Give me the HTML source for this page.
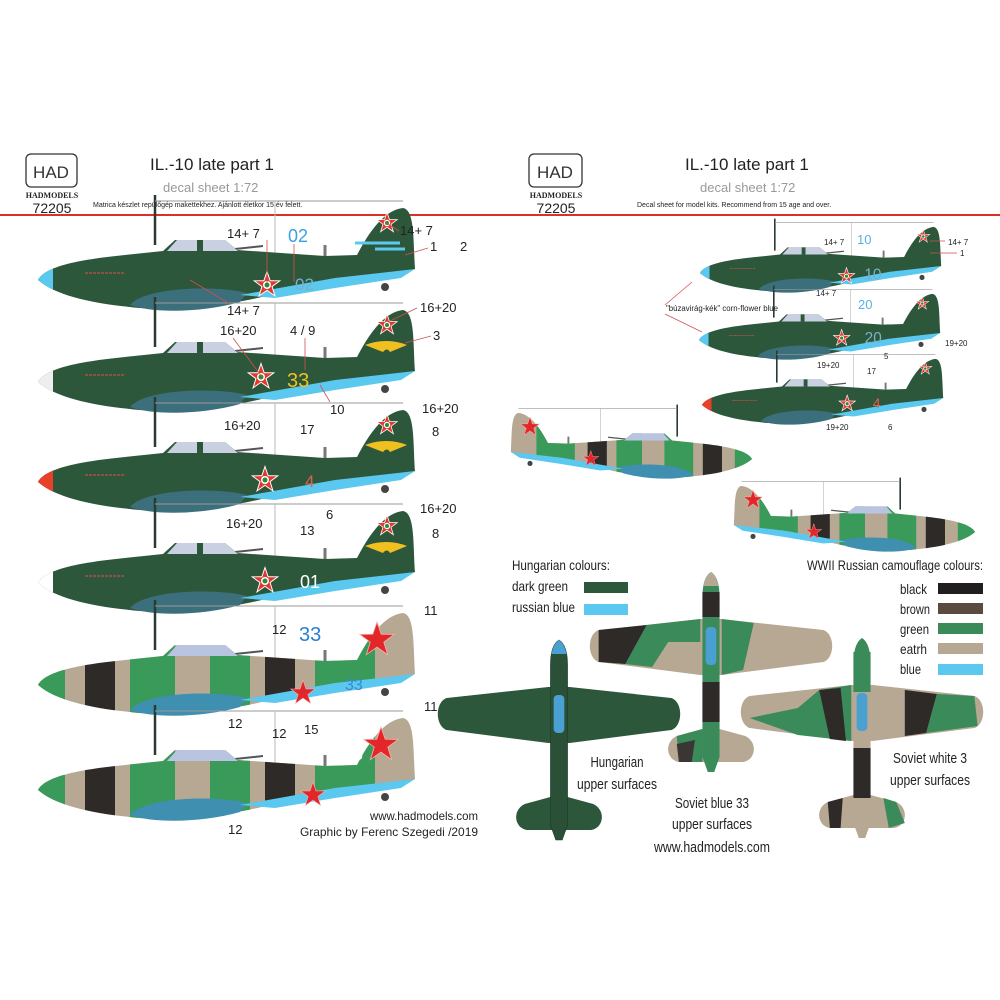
<!DOCTYPE html>
<html><head><meta charset="utf-8"><style>
html,body{margin:0;padding:0;background:#fff;}
svg{display:block;font-family:"Liberation Sans",sans-serif;}
</style></head><body>
<svg width="1000" height="1000" viewBox="0 0 1000 1000" xmlns="http://www.w3.org/2000/svg">
<defs>
<path id="P" d="M3,75 C10,62 40,55 90,50 L128,46 L140,35 L190,35 L202,45 L290,51 L322,50 C335,25 350,5 368,3 C380,5 378,35 380,64 L362,70 L290,78 L240,88 C200,102 120,106 95,102 C55,98 20,90 3,75Z"/>
<clipPath id="pc"><use href="#P"/></clipPath>
<path id="W" d="M95,100 C110,82 180,80 212,88 L205,97 C170,107 120,109 95,100Z"/>
<path id="B" d="M205,90 L300,73 L380,64 L366,73 L300,83 L240,93Z"/>
<path id="C" d="M132,46 L142,35 L190,35 L203,46Z"/>
<path id="S" d="M0,-12 L2.8,-3.8 L11.4,-3.7 L4.5,1.4 L7.1,9.7 L0,4.7 L-7.1,9.7 L-4.5,1.4 L-11.4,-3.7 L-2.8,-3.8Z"/>
<g id="ST"><use href="#S" fill="#fff" transform="scale(1.25)"/><use href="#S" fill="#e03a30"/><circle r="4" fill="#fff"/><circle r="2.5" fill="#2a8a3a"/></g>
<g id="RS"><use href="#S" fill="#f6b0a8" transform="scale(1.15)"/><use href="#S" fill="#e3262a"/></g>
<g id="FR">
<line x1="120" y1="-10" x2="120" y2="40" stroke="#2a3a30" stroke-width="2.5"/>
<polyline points="120,-4 240,-4 368,-4" fill="none" stroke="#999" stroke-width="1"/>
<line x1="240" y1="-4" x2="240" y2="60" stroke="#bbb" stroke-width="1"/>
<line x1="200" y1="44" x2="228" y2="41" stroke="#555" stroke-width="2"/>
<line x1="290" y1="40" x2="290" y2="51" stroke="#777" stroke-width="3"/>
<circle cx="350" cy="82" r="4" fill="#444"/>
</g>
<g id="GP">
<use href="#FR"/>
<use href="#P" fill="#2c573b"/>
<use href="#W" fill="#3b6f7c"/>
<use href="#B" fill="#5bc8ef"/>
<use href="#C" fill="#c9d0e2"/>
<line x1="165" y1="35" x2="165" y2="46" stroke="#2c573b" stroke-width="6"/>
<line x1="50" y1="68" x2="90" y2="68" stroke="#c0504a" stroke-width="1.2" stroke-dasharray="3,1"/>
</g>
<g id="CP">
<use href="#FR"/>
<use href="#P" fill="#b7a894"/>
<g clip-path="url(#pc)">
<rect x="50" y="0" width="30" height="110" fill="#2d2a28"/>
<rect x="95" y="0" width="45" height="110" fill="#3a9a5a"/>
<rect x="175" y="0" width="40" height="110" fill="#3a9a5a"/>
<rect x="230" y="0" width="30" height="110" fill="#2d2a28"/>
<rect x="280" y="0" width="60" height="110" fill="#3a9a5a"/>
<rect x="0" y="60" width="30" height="40" fill="#3a9a5a"/>
</g>
<use href="#W" fill="#3e8fb0"/>
<use href="#B" fill="#5bc8ef"/>
<use href="#C" fill="#b8c4e0"/>
</g>
<path id="TW" d="M-10,47 L-105,58 C-116,62 -116,86 -105,90 L-10,103 L10,103 L105,90 C116,86 116,62 105,58 L10,47Z"/>
<path id="TS" d="M-8,157 L-32,164 C-44,170 -42,188 -30,190 L30,190 C42,188 44,170 32,164 L8,157Z"/>
<path id="TF" d="M0,0 C6,4 8,14 8,25 L8,185 L3,200 L-3,200 L-8,185 L-8,25 C-8,14 -6,4 0,0Z"/>
<g id="TM"><rect x="-5" y="55" width="10" height="38" rx="4" fill="#4aa0d0"/></g>
</defs>

<!-- header left -->
<rect x="26" y="154" width="51" height="33" rx="5" fill="none" stroke="#333" stroke-width="1.3"/>
<text x="51" y="178" font-size="17" text-anchor="middle" fill="#333">HAD</text>
<text x="52" y="198" font-size="8" font-weight="bold" text-anchor="middle" font-family="Liberation Serif,serif" fill="#222">HADMODELS</text>
<text x="52" y="213" font-size="14" text-anchor="middle" fill="#222">72205</text>
<text x="150" y="170" font-size="17" fill="#222">IL.-10 late part 1</text>
<text x="163" y="192" font-size="13" fill="#999">decal sheet 1:72</text>
<text x="93" y="207" font-size="7" fill="#222">Matrica készlet repülőgép makettekhez. Ajánlott életkor 15 év felett.</text>
<!-- header right -->
<rect x="529" y="154" width="53" height="33" rx="5" fill="none" stroke="#333" stroke-width="1.3"/>
<text x="555" y="178" font-size="17" text-anchor="middle" fill="#333">HAD</text>
<text x="556" y="198" font-size="8" font-weight="bold" text-anchor="middle" font-family="Liberation Serif,serif" fill="#222">HADMODELS</text>
<text x="556" y="213" font-size="14" text-anchor="middle" fill="#222">72205</text>
<text x="685" y="170" font-size="17" fill="#222">IL.-10 late part 1</text>
<text x="700" y="192" font-size="13" fill="#999">decal sheet 1:72</text>
<text x="637" y="207" font-size="7" fill="#222">Decal sheet for model kits. Recommend from 15 age and over.</text>
<rect x="0" y="214" width="1000" height="2" fill="#d9302a"/>

<!-- left planes -->
<g transform="translate(35,205)"><use href="#GP"/><rect x="0" y="40" width="18" height="60" fill="#5bc8ef" clip-path="url(#pc)"/>
<use href="#ST" transform="translate(232,80)"/><use href="#ST" transform="translate(352,18) scale(0.8)"/>
<text x="260" y="85" font-size="17" fill="#7ab0c8">02</text>
<path d="M320,38 L365,38 M340,44 L370,44" stroke="#5bc8ef" stroke-width="3"/></g>
<g transform="translate(35,307)"><use href="#GP"/><rect x="0" y="40" width="18" height="60" fill="#eee" clip-path="url(#pc)"/>
<use href="#ST" transform="translate(226,70)"/><use href="#ST" transform="translate(352,18) scale(0.8)"/>
<text x="252" y="80" font-size="20" fill="#f0c020">33</text>
<path d="M330,38 Q352,30 372,38 L355,45 Q352,40 348,45Z" fill="#f0c020"/></g>
<g transform="translate(35,407)"><use href="#GP"/><rect x="0" y="40" width="18" height="60" fill="#e8402a" clip-path="url(#pc)"/>
<use href="#ST" transform="translate(230,73)"/><use href="#ST" transform="translate(352,18) scale(0.8)"/>
<text x="270" y="80" font-size="17" fill="#e06050">4</text>
<path d="M330,38 Q352,30 372,38 L355,45 Q352,40 348,45Z" fill="#f0c020"/></g>
<g transform="translate(35,508)"><use href="#GP"/><rect x="0" y="40" width="18" height="60" fill="#fff" clip-path="url(#pc)"/>
<use href="#ST" transform="translate(230,73)"/><use href="#ST" transform="translate(352,18) scale(0.8)"/>
<text x="265" y="80" font-size="18" fill="#fff">01</text>
<path d="M330,38 Q352,30 372,38 L355,45 Q352,40 348,45Z" fill="#f0c020"/></g>
<g transform="translate(35,610)"><use href="#CP"/>
<use href="#RS" transform="translate(268,83)"/><use href="#RS" transform="translate(342,30) scale(1.4)"/>
<text x="310" y="80" font-size="16" fill="#3a8ad0">33</text></g>
<g transform="translate(35,715)"><use href="#CP"/>
<use href="#RS" transform="translate(278,80)"/><use href="#RS" transform="translate(346,30) scale(1.4)"/>
<text x="318" y="45" font-size="18" fill="#fff">3</text></g>

<!-- left labels -->
<g font-size="13" fill="#222">
<text x="227" y="238">14+ 7</text><text x="288" y="242" fill="#3aa0e0" font-size="18">02</text>
<text x="400" y="235">14+ 7</text><text x="430" y="251">1</text><text x="460" y="251">2</text>
<text x="227" y="315">14+ 7</text>
<text x="220" y="335">16+20</text><text x="290" y="335">4 / 9</text>
<text x="420" y="312">16+20</text><text x="433" y="340">3</text><text x="330" y="414">10</text>
<text x="224" y="430">16+20</text><text x="300" y="434">17</text>
<text x="422" y="413">16+20</text><text x="432" y="436">8</text><text x="326" y="519">6</text>
<text x="226" y="528">16+20</text><text x="300" y="535">13</text>
<text x="420" y="513">16+20</text><text x="432" y="538">8</text>
<text x="272" y="634">12</text><text x="299" y="641" fill="#2a80d0" font-size="20">33</text>
<text x="424" y="615">11</text>
<text x="228" y="728">12</text><text x="272" y="738">12</text><text x="304" y="734">15</text>
<text x="424" y="711">11</text><text x="228" y="834">12</text>
</g>
<g stroke="#d05050" stroke-width="0.8" fill="none">
<path d="M267,240 L267,283 M294,244 L294,282 M399,231 L385,222 M428,248 L405,255 M230,304 L190,280 M233,338 L262,377 M305,338 L305,370 M417,308 L388,322 M431,336 L405,343 M330,402 L320,385"/>
</g>
<text x="370" y="820" font-size="12" fill="#222" textLength="108" lengthAdjust="spacingAndGlyphs">www.hadmodels.com</text>
<text x="300" y="836" font-size="12" fill="#222" textLength="178" lengthAdjust="spacingAndGlyphs">Graphic by Ferenc Szegedi /2019</text>

<!-- right small planes -->
<g transform="translate(698,225) scale(0.64)"><use href="#GP"/><rect x="0" y="40" width="18" height="60" fill="#5bc8ef" clip-path="url(#pc)"/>
<use href="#ST" transform="translate(232,80)"/><use href="#ST" transform="translate(352,18) scale(0.8)"/>
<text x="260" y="85" font-size="24" fill="#7ab0c8">10</text></g>
<g transform="translate(697,292) scale(0.64)"><use href="#GP"/><rect x="0" y="40" width="18" height="60" fill="#5bc8ef" clip-path="url(#pc)"/>
<use href="#ST" transform="translate(226,72)"/><use href="#ST" transform="translate(352,18) scale(0.8)"/>
<text x="262" y="80" font-size="24" fill="#7ab0c8">20</text></g>
<g transform="translate(700,357) scale(0.64)"><use href="#GP"/><rect x="0" y="40" width="18" height="60" fill="#e8402a" clip-path="url(#pc)"/>
<use href="#ST" transform="translate(230,73)"/><use href="#ST" transform="translate(352,18) scale(0.8)"/>
<text x="270" y="80" font-size="22" fill="#e06050">4</text></g>
<g font-size="8" fill="#222">
<text x="824" y="245">14+ 7</text><text x="857" y="244" fill="#5ab0e0" font-size="13">10</text>
<text x="948" y="245">14+ 7</text><text x="960" y="256">1</text>
<text x="816" y="296">14+ 7</text>
<text x="666" y="311" textLength="112" lengthAdjust="spacingAndGlyphs">"búzavirág-kék" corn-flower blue</text>
<text x="858" y="309" fill="#5ab0e0" font-size="13">20</text>
<text x="945" y="346">19+20</text><text x="884" y="359">5</text>
<text x="817" y="368">19+20</text><text x="867" y="374">17</text>
<text x="826" y="430">19+20</text><text x="888" y="430">6</text>
</g>
<g stroke="#d05050" stroke-width="0.7" fill="none"><path d="M665,305 L692,282 M665,314 L702,332 M930,241 L945,241 M930,253 L957,253"/></g>

<!-- camo side planes mirrored -->
<g transform="translate(754,411) scale(-0.64,0.64)"><use href="#CP"/><use href="#RS" transform="translate(255,75)"/><use href="#RS" transform="translate(350,25) scale(1.2)"/></g>
<g transform="translate(977,484) scale(-0.64,0.64)"><use href="#CP"/><use href="#RS" transform="translate(255,75)"/><use href="#RS" transform="translate(350,25) scale(1.2)"/></g>

<!-- legends -->
<g font-size="14" fill="#222">
<text x="512" y="570" textLength="98" lengthAdjust="spacingAndGlyphs">Hungarian colours:</text>
<text x="512" y="591" textLength="56" lengthAdjust="spacingAndGlyphs">dark green</text>
<text x="512" y="612" textLength="63" lengthAdjust="spacingAndGlyphs">russian blue</text>
<text x="807" y="570" textLength="176" lengthAdjust="spacingAndGlyphs">WWII Russian camouflage colours:</text>
<text x="900" y="594" textLength="27" lengthAdjust="spacingAndGlyphs">black</text>
<text x="900" y="614" textLength="30" lengthAdjust="spacingAndGlyphs">brown</text>
<text x="900" y="634" textLength="29" lengthAdjust="spacingAndGlyphs">green</text>
<text x="900" y="654" textLength="27" lengthAdjust="spacingAndGlyphs">eatrh</text>
<text x="900" y="674" textLength="21" lengthAdjust="spacingAndGlyphs">blue</text>
</g>
<rect x="584" y="582" width="44" height="11" fill="#2c573b"/>
<rect x="584" y="604" width="44" height="11" fill="#5bc8ef"/>
<rect x="938" y="583" width="45" height="11" fill="#201e1e"/>
<rect x="938" y="603" width="45" height="11" fill="#5a4a40"/>
<rect x="938" y="623" width="45" height="11" fill="#3a8a5a"/>
<rect x="938" y="643" width="45" height="11" fill="#b7a894"/>
<rect x="938" y="664" width="45" height="11" fill="#5bc8ef"/>

<!-- top views -->
<g transform="translate(559,640) scale(1.07,1)">
<use href="#TW" fill="#2c573b"/><use href="#TS" fill="#2c573b"/><use href="#TF" fill="#2a5038" stroke="#1a3526" stroke-width="0.5"/><path d="M0,0 C4,3 6,8 7,14 L-7,14 C-6,8 -4,3 0,0Z" fill="#4aa0d0"/><use href="#TM"/>
</g>
<g transform="translate(711,572) scale(1.07,1)">
<use href="#TW" fill="#b7a894"/>
<path d="M-105,58 L-60,53 L-80,92 L-105,90Z" fill="#2d2a28"/><path d="M-60,53 L-10,47 L-10,70 L-40,70 L-55,95 L-80,92Z" fill="#3a8a5a"/><path d="M10,47 L40,51 L30,98 L10,103Z" fill="#3a8a5a"/>
<use href="#TS" fill="#b7a894"/><path d="M-32,164 L-8,157 L-8,190 L-30,190Z" fill="#3a8a5a"/><path d="M-32,172 L-15,168 L-18,190 L-30,190Z" fill="#3a3634"/>
<use href="#TF" fill="#3a8a5a"/><rect x="-8" y="20" width="16" height="25" fill="#2d2a28"/><rect x="-8" y="110" width="16" height="40" fill="#2d2a28"/><path d="M0,0 C4,3 6,8 7,14 L-7,14 C-6,8 -4,3 0,0Z" fill="#b7a894"/><use href="#TM"/>
</g>
<g transform="translate(862,638) scale(1.07,1)">
<use href="#TW" fill="#b7a894"/>
<path d="M-105,80 L-60,70 L-40,52 L-10,47 L-10,103 L-60,97Z" fill="#3a8a5a"/><path d="M-40,52 L-20,50 L-15,103 L-30,101Z" fill="#2d2a28"/><path d="M40,52 L70,56 L60,95 L40,98Z" fill="#2d2a28"/><path d="M70,56 L105,58 L108,88 L60,95Z" fill="#3a8a5a"/>
<use href="#TS" fill="#b7a894"/><path d="M-32,164 L-18,160 L-20,190 L-30,190Z" fill="#2d2a28"/><path d="M20,160 L32,164 L40,185 L25,190Z" fill="#3a8a5a"/>
<use href="#TF" fill="#b7a894"/><rect x="-8" y="14" width="16" height="40" fill="#3a8a5a"/><rect x="-8" y="110" width="16" height="50" fill="#2d2a28"/><path d="M0,0 C4,3 6,8 7,14 L-7,14 C-6,8 -4,3 0,0Z" fill="#3a8a5a"/><use href="#TM"/>
</g>
<g font-size="15" fill="#222" text-anchor="middle">
<text x="617" y="767" textLength="53" lengthAdjust="spacingAndGlyphs">Hungarian</text>
<text x="617" y="789" textLength="80" lengthAdjust="spacingAndGlyphs">upper surfaces</text>
<text x="712" y="808" textLength="74" lengthAdjust="spacingAndGlyphs">Soviet blue 33</text>
<text x="712" y="829" textLength="80" lengthAdjust="spacingAndGlyphs">upper surfaces</text>
<text x="712" y="852" textLength="116" lengthAdjust="spacingAndGlyphs">www.hadmodels.com</text>
<text x="930" y="763" textLength="74" lengthAdjust="spacingAndGlyphs">Soviet white 3</text>
<text x="930" y="785" textLength="80" lengthAdjust="spacingAndGlyphs">upper surfaces</text>
</g>
</svg>
</body></html>
